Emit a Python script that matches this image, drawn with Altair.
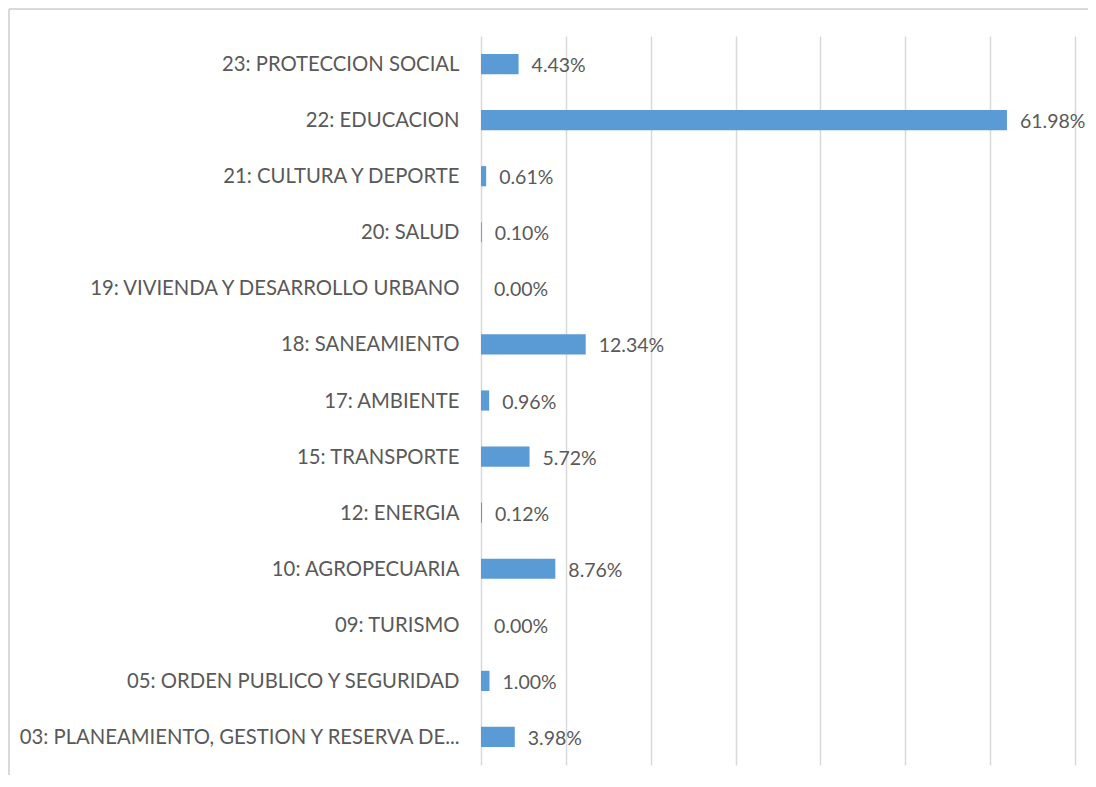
import altair as alt
import pandas as pd

categories = [
    "23: PROTECCION SOCIAL",
    "22: EDUCACION",
    "21: CULTURA Y DEPORTE",
    "20: SALUD",
    "19: VIVIENDA Y DESARROLLO URBANO",
    "18: SANEAMIENTO",
    "17: AMBIENTE",
    "15: TRANSPORTE",
    "12: ENERGIA",
    "10: AGROPECUARIA",
    "09: TURISMO",
    "05: ORDEN PUBLICO Y SEGURIDAD",
    "03: PLANEAMIENTO, GESTION Y RESERVA DE...",
]
values = [4.43, 61.98, 0.61, 0.10, 0.00, 12.34, 0.96, 5.72, 0.12, 8.76, 0.00, 1.00, 3.98]
labels = [f"{v:.2f}%" for v in values]

df = pd.DataFrame({"cat": categories, "val": values, "lbl": labels})

FONT = "Lato"
TXT = "#595959"

y = alt.Y("cat:N", sort=categories, title=None,
          scale=alt.Scale(paddingInner=0.64, paddingOuter=0.32),
          axis=alt.Axis(domain=False, ticks=False, grid=False, labelPadding=22,
                        labelFont=FONT, labelFontSize=20.3, labelColor=TXT, labelLimit=0,
                        labelOffset=1))
x = alt.X("val:Q", title=None,
          scale=alt.Scale(domain=[0, 70], nice=False),
          axis=alt.Axis(values=[0, 10, 20, 30, 40, 50, 60, 70], labels=False, ticks=False,
                        domain=False, grid=True, gridColor="#D9D9D9", gridWidth=1.5))

bars = alt.Chart(df).mark_bar(color="#5B9BD5").encode(x=x, y=y)
text = alt.Chart(df).mark_text(align="left", baseline="middle", dx=13, dy=2,
                               font=FONT, fontSize=19.5, color=TXT).encode(
    x="val:Q", y=alt.Y("cat:N", sort=categories), text="lbl:N")

border_top = alt.Chart(df).mark_rule(color="#D9D9D9", strokeWidth=1.5).encode(
    x=alt.value(-472), x2=alt.value(620), y=alt.value(-27))
border_left = alt.Chart(df).mark_rule(color="#D9D9D9", strokeWidth=1.5).encode(
    x=alt.value(-472), y=alt.value(-27), y2=alt.value(745))

chart = alt.layer(bars, text, border_top, border_left).properties(
    width=594, height=729,
    autosize=alt.AutoSizeParams(type="none"),
    padding={"left": 473, "top": 28, "right": 13, "bottom": 10},
).configure_view(stroke=None)

chart.save("out.html", embed_options={"renderer": "svg", "actions": False})
